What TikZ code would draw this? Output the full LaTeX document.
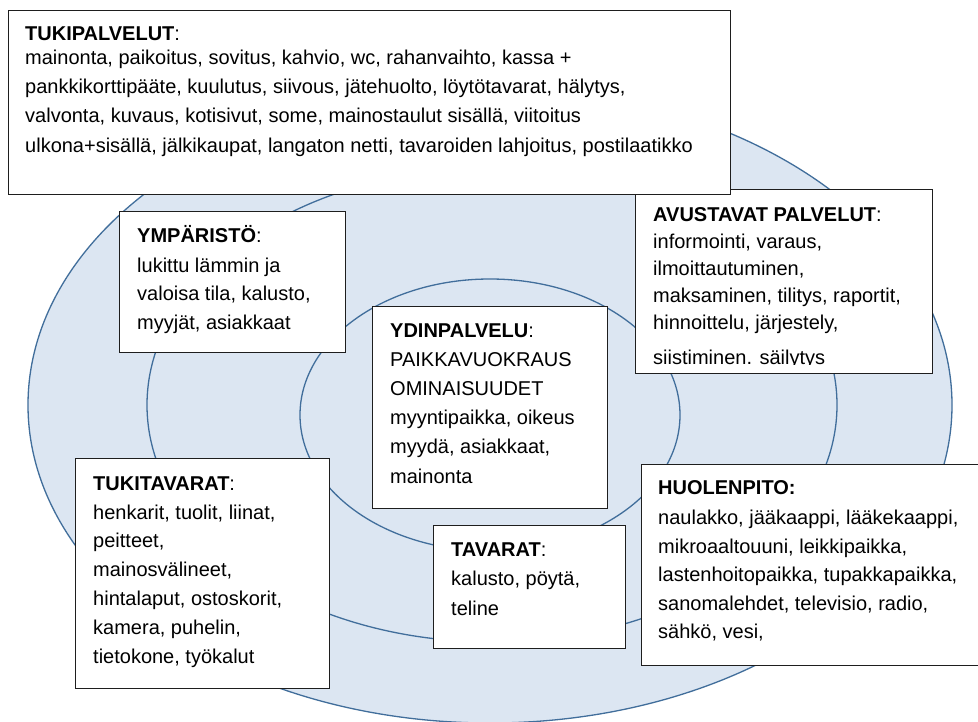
\documentclass[tikz,border=0pt]{standalone}
\usepackage{fontspec}
\setmainfont{Liberation Sans}
\definecolor{ringfill}{RGB}{220,230,242}
\definecolor{ringline}{RGB}{65,110,155}
\definecolor{boxline}{RGB}{30,30,30}
\tikzset{
  ring/.style={fill=ringfill, draw=ringline, line width=1.3pt},
  infobox/.style={draw=boxline, fill=white, line width=1.4pt, inner sep=0pt, anchor=north west},
  % text blocks are placed by the baseline of their last line
  boxtext/.style={anchor=base west, inner sep=0pt, align=left, font=\fontsize{20}{#1}\selectfont},
  boxtext/.default=28.8
}
\newcommand\hd[1]{\textbf{#1}}

\begin{document}
\begin{tikzpicture}[x=1pt,y=-1pt]
\useasboundingbox (0,0) rectangle (978,722);
\fill[white] (0,0) rectangle (978,722);

% three nested rings
\path[ring] (490,405) ellipse [x radius=462pt, y radius=318pt];
\path[ring] (492,405) ellipse [x radius=345pt, y radius=237pt];
\path[ring] (490,415) ellipse [x radius=190pt, y radius=136pt];

% avustavat palvelut (text is clipped at the box like in the slide)
\node[infobox, minimum width=297pt, minimum height=184pt] (avubox) at (635,189) {};
\begin{scope}
  \clip (635,189) rectangle (932,364.6);
  \node[boxtext=27] (avutext) at (653,364)
    {\hd{AVUSTAVAT PALVELUT}:\\
     informointi, varaus,\\
     ilmoittautuminen,\\
     maksaminen, tilitys, raportit,\\
     hinnoittelu, järjestely,\\[8pt]
     siistiminen. säilytys};
\end{scope}

% tukipalvelut
\node[infobox, minimum width=722pt, minimum height=184pt] (tukibox) at (8,10) {};
\node[boxtext=29] (tukitext) at (25,153)
  {\hd{TUKIPALVELUT}:\\[-5pt]
   mainonta, paikoitus, sovitus, kahvio, wc, rahanvaihto, kassa +\\
   pankkikorttipääte, kuulutus, siivous, jätehuolto, löytötavarat, hälytys,\\
   valvonta, kuvaus, kotisivut, some, mainostaulut sisällä, viitoitus\\[1pt]
   ulkona+sisällä, jälkikaupat, langaton netti, tavaroiden lahjoitus, postilaatikko};

% ympäristö
\node[infobox, minimum width=226pt, minimum height=141pt] (ympbox) at (119,211) {};
\node[boxtext=29] (ymptext) at (137,330)
  {\hd{YMPÄRISTÖ}:\\
   lukittu lämmin ja\\
   valoisa tila, kalusto,\\
   myyjät, asiakkaat};

% ydinpalvelu
\node[infobox, minimum width=235pt, minimum height=202pt] (ydinbox) at (372,306) {};
\node[boxtext=29.2] (ydintext) at (390,483)
  {\hd{YDINPALVELU}:\\
   PAIKKAVUOKRAUS\\
   OMINAISUUDET\\
   myyntipaikka, oikeus\\
   myydä, asiakkaat,\\
   mainonta};

% tukitavarat
\node[infobox, minimum width=254pt, minimum height=230pt] (tukitbox) at (75,458) {};
\node[boxtext=28.8] (tukittext) at (93,663)
  {\hd{TUKITAVARAT}:\\
   henkarit, tuolit, liinat,\\
   peitteet,\\
   mainosvälineet,\\
   hintalaput, ostoskorit,\\
   kamera, puhelin,\\
   tietokone, työkalut};

% tavarat
\node[infobox, minimum width=192pt, minimum height=123pt] (tavbox) at (433,525) {};
\node[boxtext=29.5] (tavtext) at (451,615)
  {\hd{TAVARAT}:\\
   kalusto, pöytä,\\
   teline};

% huolenpito
\node[infobox, minimum width=338pt, minimum height=201pt] (huolbox) at (641,464) {};
\node[boxtext=28.4] (huoltext) at (658,638.5)
  {\hd{HUOLENPITO:}\\[2.5pt]
   naulakko, jääkaappi, lääkekaappi,\\
   mikroaaltouuni, leikkipaikka,\\
   lastenhoitopaikka, tupakkapaikka,\\
   sanomalehdet, televisio, radio,\\
   sähkö, vesi,};
\end{tikzpicture}
\end{document}
